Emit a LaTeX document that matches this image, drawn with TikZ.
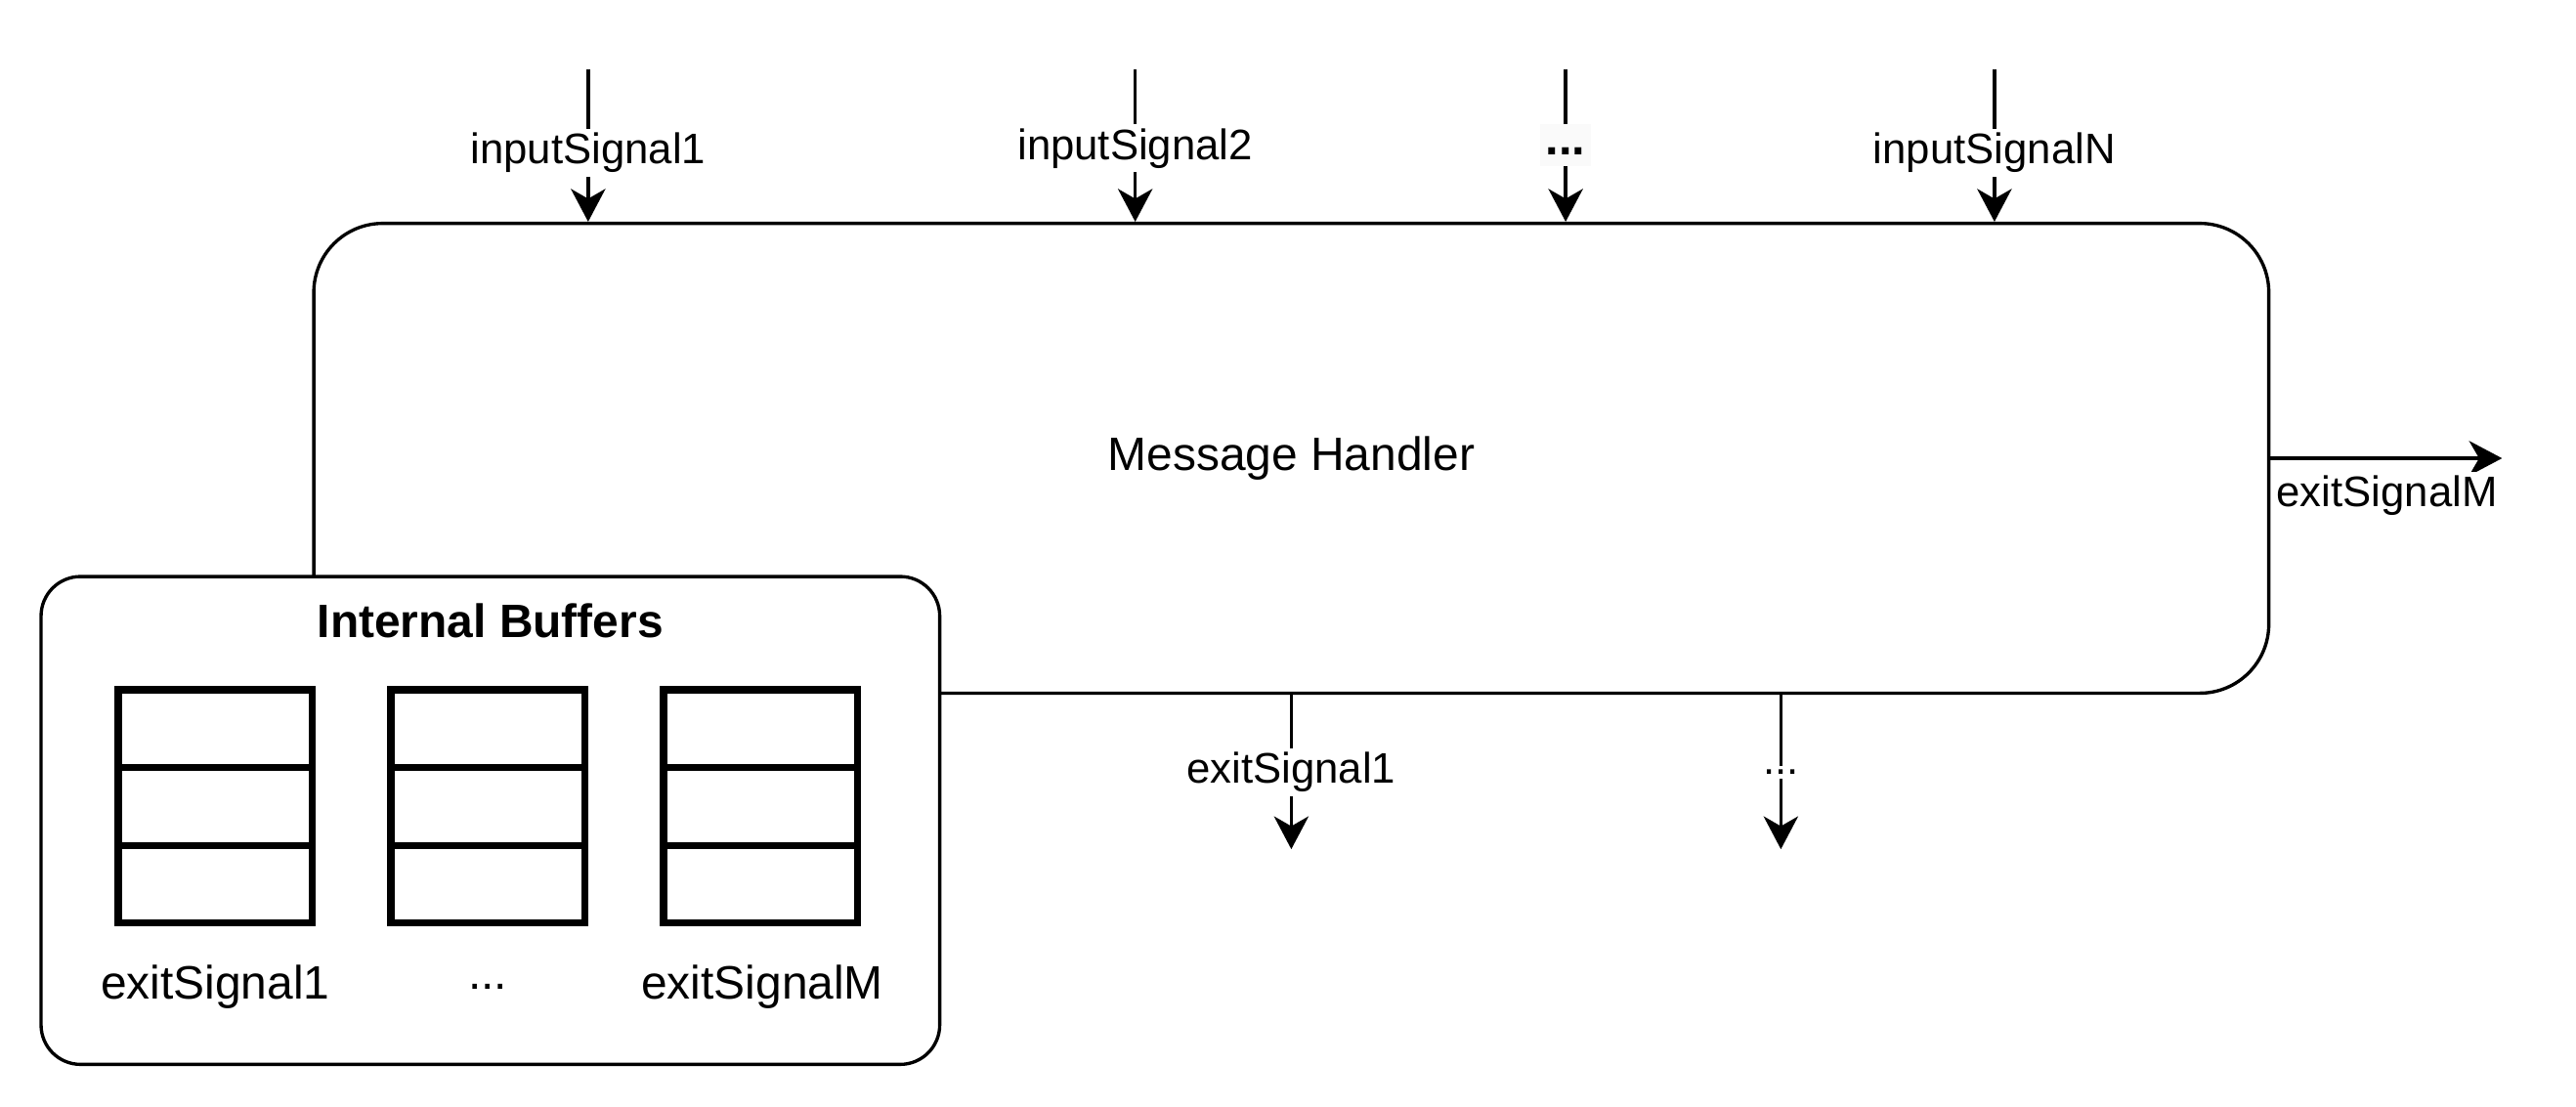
\documentclass[tikz,border=0pt]{standalone}
\usepackage{fontspec}
\setmainfont{Liberation Sans}
\usetikzlibrary{arrows.meta}
\usetikzlibrary{positioning}

\begin{document}
\begin{tikzpicture}[x = .5pt, y = -.5pt,
    every node/.style = {font = \fontsize{14.25}{17}\selectfont},
    block/.style = {draw, line width = 1pt, fill = white, inner sep = 0},
    cell/.style = {draw, line width = 2.2pt, minimum width = 59pt,
        minimum height = 23.67pt, inner sep = 0},
    sig/.style = {line width = 1pt,
        -{Stealth[length = 10pt, width = 10.5pt, inset = 3pt]}},
    siglabel/.style = {fill = white, inner sep = 1.2pt,
        font = \fontsize{13}{15}\selectfont}]
    \useasboundingbox (0, 0) rectangle (1568, 673.4);

    %% message handler
    \node[block, rounded corners = 21pt, minimum width = 595pt,
        minimum height = 143pt] (mh) at (786, 279) {Message Handler};

    %% internal buffers
    \node[block, rounded corners = 12pt, minimum width = 273.5pt,
        minimum height = 148.5pt] (ib) at (298.5, 499.5) {};
    \node[font = \bfseries\fontsize{14.25}{17}\selectfont] (ibtitle)
        at ([yshift = -14pt]ib.north) {Internal Buffers};
    \foreach \x/\n in {131/1, 297/2, 463/3} {
        \foreach \r in {1, 2, 3}
            \node[cell] (buf\n-\r) at (\x, {420 + 47.33*(\r - 0.5)}) {};
    }
    \node (buf1-label) at (131, 601) {exitSignal1};
    \node (buf2-label) at (297, 601) {...};
    \node (buf3-label) at (464, 601) {exitSignalM};

    %% input signals
    \coordinate (in1) at (358, 42);
    \coordinate (in2) at (691, 42);
    \coordinate (in3) at (953, 42);
    \coordinate (in4) at (1214, 42);
    \draw[sig] (in1) -- node[siglabel, pos = .55] (in1-label) {inputSignal1} (in1 |- mh.north);
    \draw[sig] (in2) -- node[siglabel, pos = .52] (in2-label) {inputSignal2} (in2 |- mh.north);
    \draw[sig] (in3) -- node[siglabel, fill = gray!4, inner sep = 1.6pt,
        minimum width = 15pt, text height = .75em, text depth = .2em,
        font = \bfseries\fontsize{14.5}{17}\selectfont] (in3-label) {...}
        (in3 |- mh.north);
    \draw[sig] (in4) -- node[siglabel, pos = .55] (in4-label) {inputSignalN} (in4 |- mh.north);

    %% exit signals
    \coordinate (out1) at (786, 517);
    \coordinate (out2) at (1084, 517);
    \coordinate (outM) at (1523, 279);
    \draw[sig] (mh.south -| out1) -- node[siglabel] (out1-label) {exitSignal1} (out1);
    \draw[sig] (mh.south -| out2) -- node[siglabel] (out2-label) {...} (out2);
    \draw[sig, line width = 1.3pt] (mh.east) -- node[siglabel, pos = 0,
        anchor = west, yshift = -11.5pt] (outM-label) {exitSignalM} (outM);
\end{tikzpicture}
\end{document}
